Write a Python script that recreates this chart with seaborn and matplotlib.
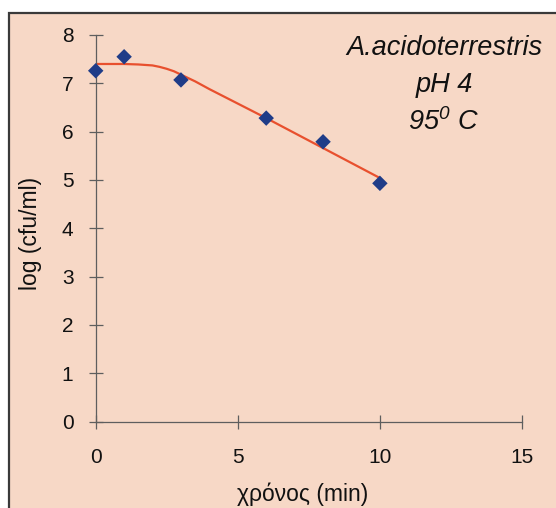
import matplotlib
matplotlib.use("Agg")
import matplotlib.pyplot as plt
from matplotlib.patches import Rectangle
import seaborn as sns
import pandas as pd

# ---- data ----
time_min = [0, 1, 3, 6, 8, 10]
log_cfu = [7.26, 7.55, 7.07, 6.28, 5.79, 4.93]

fit_time = [0, 1, 1.5, 2, 2.25, 2.5, 2.75, 3, 3.25, 3.5, 4, 5, 6, 7, 8, 9, 10]
fit_log = [7.40, 7.40, 7.39, 7.37, 7.34, 7.30, 7.25, 7.18, 7.11, 7.04, 6.88, 6.58, 6.28, 5.97, 5.66, 5.35, 5.04]

x_ticks = [0, 5, 10, 15]
y_ticks = [0, 1, 2, 3, 4, 5, 6, 7, 8]

title_lines = ["A.acidoterrestris", "pH 4"]
x_label = "χρόνος (min)"
y_label = "log (cfu/ml)"

# ---- style ----
sns.set_style("white")
plt.rcParams["font.family"] = ["Liberation Sans", "DejaVu Sans"]
plt.rcParams["mathtext.fontset"] = "custom"
plt.rcParams["mathtext.rm"] = "Liberation Sans:italic"
plt.rcParams["mathtext.it"] = "Liberation Sans:italic"

W, H = 556, 508
peach = "#F7D8C6"
axis_col = "#5e5e5e"
txt_col = "#111111"

fig = plt.figure(figsize=(W / 100, H / 100), dpi=100, facecolor="white")
fig.patches.append(Rectangle((9 / W, -0.05), 1.2, (1 - 13 / H) + 0.05,
                             transform=fig.transFigure, facecolor=peach,
                             edgecolor="#3a3a3a", linewidth=1.6, zorder=-1))

x0, x1 = 95.7, 522.0
y0, y1 = 421.5, 35.0
ax = fig.add_axes([x0 / W, 1 - y0 / H, (x1 - x0) / W, (y0 - y1) / H])
ax.set_facecolor("none")

fit_df = pd.DataFrame({"t": fit_time, "y": fit_log})
pts_df = pd.DataFrame({"t": time_min, "y": log_cfu})

sns.lineplot(data=fit_df, x="t", y="y", ax=ax, color="#E8502E", linewidth=1.6,
             sort=False, zorder=2)
sns.scatterplot(data=pts_df, x="t", y="y", ax=ax, marker="D", s=62,
                color="#1F3C88", edgecolor="none", linewidth=0, zorder=3)
for c in ax.collections:
    c.set_clip_on(False)

ax.set_xlim(0, 15)
ax.set_ylim(0, 8)
ax.set_xticks(x_ticks)
ax.set_yticks(y_ticks)
ax.set_xticklabels([str(v) for v in x_ticks])
ax.set_yticklabels([str(v) for v in y_ticks])

for s in ["top", "right"]:
    ax.spines[s].set_visible(False)
for s in ["left", "bottom"]:
    ax.spines[s].set_color(axis_col)
    ax.spines[s].set_linewidth(0.9)

ax.tick_params(axis="both", direction="inout", length=10, width=0.9,
               color=axis_col, labelcolor=txt_col, labelsize=15,
               bottom=True, left=True)
ax.tick_params(axis="x", pad=14)
ax.tick_params(axis="y", pad=11)

ax.set_xlabel(x_label, fontsize=16.5, color=txt_col)
ax.set_ylabel(y_label, fontsize=16.5, color=txt_col)
ax.xaxis.set_label_coords((303 - x0) / (x1 - x0), (y0 - 494) / (y0 - y1))
ax.xaxis.label.set_va("center")
ax.yaxis.set_label_coords((30 - x0) / (x1 - x0), (y0 - 233) / (y0 - y1))
ax.yaxis.label.set_va("center")
ax.yaxis.label.set_ha("center")

cx = 444 / W
fig.text(cx, 1 - 55 / H, title_lines[0], ha="center", va="baseline",
         fontsize=19.5, style="italic", color=txt_col)
fig.text(cx, 1 - 92 / H, title_lines[1], ha="center", va="baseline",
         fontsize=19.5, style="italic", color=txt_col)
fig.text(cx, 1 - 130 / H, r"$95^{0}\ C$", ha="center", va="baseline",
         fontsize=19.5, color=txt_col)

fig.savefig("out.png", dpi=100, facecolor=fig.get_facecolor())
